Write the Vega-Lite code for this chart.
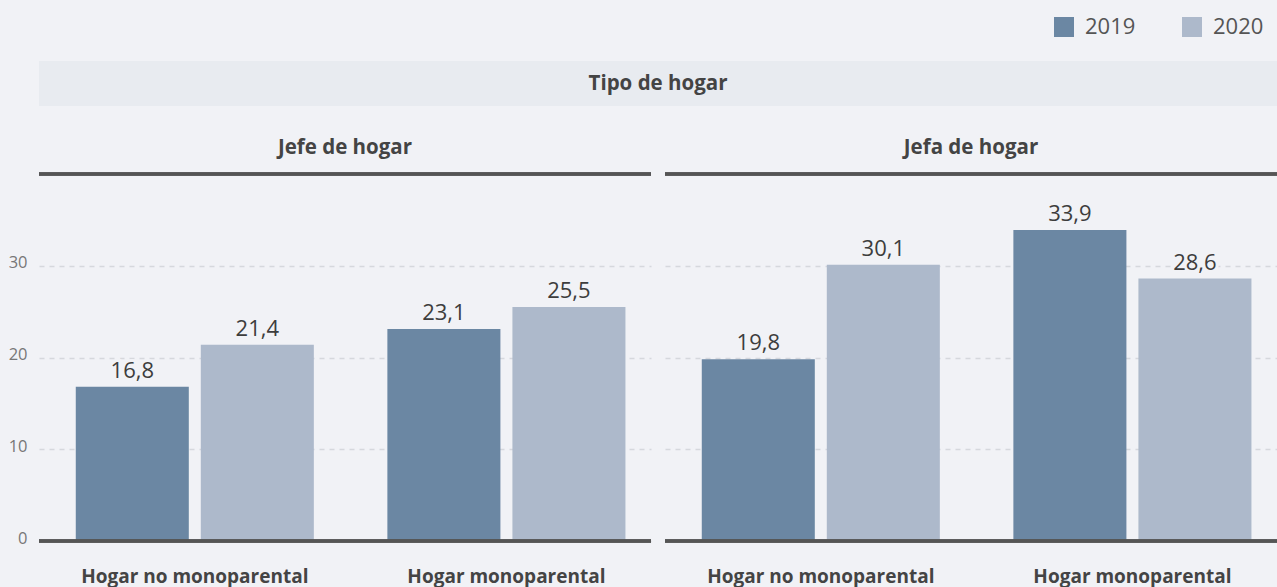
{
  "$schema": "https://vega.github.io/schema/vega-lite/v6.json",
  "background": "#f1f2f6",
  "padding": {"left": 8, "top": 16, "right": 0, "bottom": 1},
  "config": {
    "font": "Open Sans",
    "view": {"stroke": null},
    "locale": {"number": {"decimal": ",", "thousands": ".", "grouping": [3], "currency": ["", " €"]}}
  },
  "datasets": {
    "d": [
      {"jefe": "Jefe de hogar", "tipo": "Hogar no monoparental", "anio": "2019", "v": 16.8},
      {"jefe": "Jefe de hogar", "tipo": "Hogar no monoparental", "anio": "2020", "v": 21.4},
      {"jefe": "Jefe de hogar", "tipo": "Hogar monoparental", "anio": "2019", "v": 23.1},
      {"jefe": "Jefe de hogar", "tipo": "Hogar monoparental", "anio": "2020", "v": 25.5},
      {"jefe": "Jefa de hogar", "tipo": "Hogar no monoparental", "anio": "2019", "v": 19.8},
      {"jefe": "Jefa de hogar", "tipo": "Hogar no monoparental", "anio": "2020", "v": 30.1},
      {"jefe": "Jefa de hogar", "tipo": "Hogar monoparental", "anio": "2019", "v": 33.9},
      {"jefe": "Jefa de hogar", "tipo": "Hogar monoparental", "anio": "2020", "v": 28.6}
    ]
  },
  "bounds": "flush",
  "spacing": 68,
  "vconcat": [
    {
      "width": 1238,
      "height": 45,
      "data": {"values": [{"t": "Tipo de hogar"}]},
      "layer": [
        {
          "mark": {"type": "rect", "fill": "#e8ebf0"},
          "encoding": {
            "x": {"value": 0},
            "x2": {"value": "width"},
            "y": {"value": 0},
            "y2": {"value": "height"}
          }
        },
        {
          "mark": {"type": "text", "fontSize": 20.5, "fontWeight": "bold", "color": "#444444", "baseline": "middle", "align": "center"},
          "encoding": {"text": {"field": "t"}}
        }
      ]
    },
    {
      "data": {"name": "d"},
      "spacing": 10,
      "facet": {
        "column": {
          "field": "jefe",
          "type": "nominal",
          "sort": ["Jefe de hogar", "Jefa de hogar"],
          "header": {
            "title": null,
            "labelFontSize": 20.5,
            "labelFontWeight": "bold",
            "labelColor": "#444444",
            "labelPadding": 14
          }
        }
      },
      "spec": {
        "width": 612,
        "height": 367,
        "encoding": {
          "x": {
            "field": "tipo",
            "type": "nominal",
            "sort": ["Hogar no monoparental", "Hogar monoparental"],
            "scale": {"paddingInner": 0.236, "paddingOuter": 0.1, "align": 0.59},
            "axis": {
              "title": null,
              "labelAngle": 0,
              "labelFontSize": 19,
              "labelFontWeight": "bold",
              "labelColor": "#444444",
              "labelBaseline": "alphabetic",
              "labelPadding": 39,
              "labelLimit": 500,
              "ticks": false,
              "domain": false
            }
          },
          "xOffset": {
            "field": "anio",
            "type": "nominal",
            "scale": {"paddingInner": 0.096, "paddingOuter": 0}
          },
          "y": {
            "field": "v",
            "type": "quantitative",
            "scale": {"domain": [0, 40]},
            "axis": {
              "title": null,
              "values": [0, 10, 20, 30],
              "domain": false,
              "ticks": false,
              "labelFontSize": 16.5,
              "labelColor": "#777777",
              "labelPadding": 10,
              "labelOffset": -3,
              "gridColor": "#d6d8dd",
              "gridWidth": 1.5,
              "gridDash": [5, 5]
            }
          }
        },
        "layer": [
          {
            "mark": {"type": "bar"},
            "encoding": {
              "color": {
                "field": "anio",
                "type": "nominal",
                "scale": {"domain": ["2019", "2020"], "range": ["#6b87a3", "#adb9cb"]},
                "legend": {
                  "title": null,
                  "orient": "none",
                  "direction": "horizontal",
                  "legendX": 1014,
                  "legendY": -45,
                  "symbolType": "square",
                  "symbolSize": 400,
                  "symbolStrokeWidth": 0,
                  "symbolOpacity": 1,
                  "labelFontSize": 22,
                  "labelColor": "#555555",
                  "labelOffset": 10,
                  "columnPadding": 45
                }
              }
            }
          },
          {
            "mark": {"type": "text", "baseline": "alphabetic", "dy": -9, "fontSize": 22, "color": "#f1f2f6", "stroke": "#f1f2f6", "strokeWidth": 6},
            "encoding": {"text": {"field": "v", "type": "quantitative", "format": ".1f"}}
          },
          {
            "mark": {"type": "text", "baseline": "alphabetic", "dy": -9, "fontSize": 22, "color": "#3d3d3d"},
            "encoding": {"text": {"field": "v", "type": "quantitative", "format": ".1f"}}
          },
          {
            "mark": {"type": "rule", "color": "#555555", "strokeWidth": 3},
            "encoding": {"y": {"datum": 40}, "x": null, "xOffset": null}
          },
          {
            "mark": {"type": "rule", "color": "#555555", "strokeWidth": 3},
            "encoding": {"y": {"datum": 0}, "x": null, "xOffset": null}
          }
        ]
      }
    }
  ]
}
